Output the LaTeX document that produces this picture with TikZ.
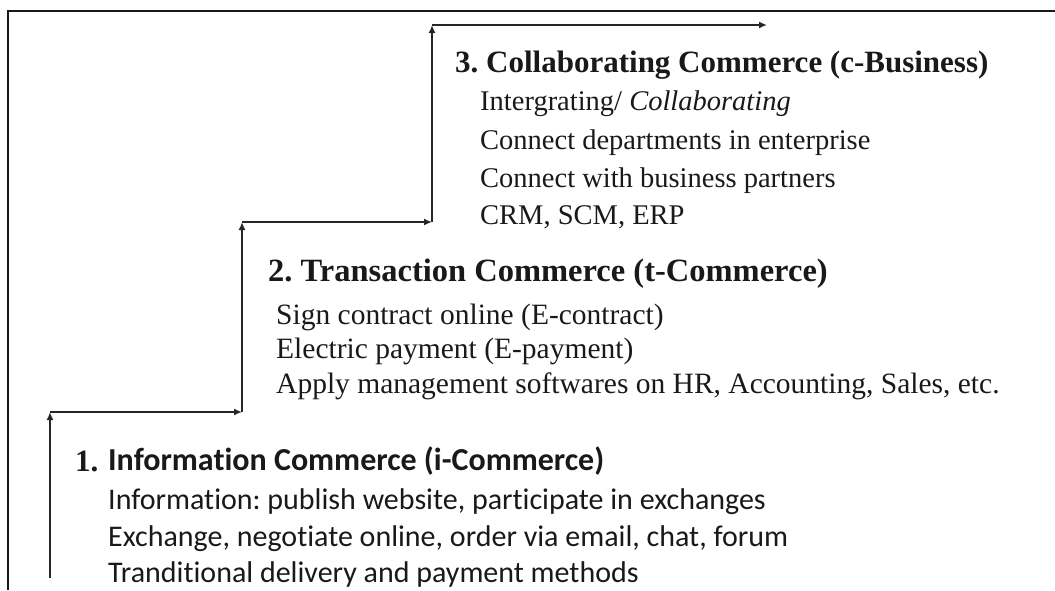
\documentclass[tikz,border=0pt]{standalone}
\usepackage{fontspec}
\setmainfont{Liberation Serif}
\newfontfamily\calibrifont[Ligatures=NoCommon]{Carlito}
\usetikzlibrary{arrows.meta}
\frenchspacing

\tikzset{
  stair/.style={draw=black!85, line width=1.8pt, -{Latex[length=8pt,width=7pt]}},
  frameline/.style={draw=black!90, line width=2pt},
  headtext/.style={anchor=base west, inner sep=0pt, text=black!90, font=\fontsize{31}{36}\selectfont\bfseries},
  bodytext/.style={anchor=base west, inner sep=0pt, text=black!90, font=\fontsize{28.5}{34}\selectfont},
  sanshead/.style={anchor=base west, inner sep=0pt, text=black!90, font=\calibrifont\fontsize{32}{36}\selectfont\bfseries},
  sansbody/.style={anchor=base west, inner sep=0pt, text=black!90, font=\calibrifont\fontsize{30}{34}\selectfont},
}

\begin{document}
\begin{tikzpicture}[x=1pt,y=-1pt]
	\useasboundingbox (0,0) rectangle (1055,590);
	% frame
	\coordinate (F0) at (8,590);
	\coordinate (F1) at (8,11);
	\coordinate (F2) at (1055,11);
	\draw[frameline] (F0) -- (F1) -- (F2);

	% stair corners
	\coordinate (S0) at (50,578);
	\coordinate (S1) at (50,412);
	\coordinate (S2) at (242,412);
	\coordinate (S3) at (242,222);
	\coordinate (S4) at (432,222);
	\coordinate (S5) at (432,25);
	\coordinate (S6) at (767,25);
	\draw[stair] (S0) -- (S1);
	\draw[stair] (S1) -- (S2);
	\draw[stair] (S2) -- (S3);
	\draw[stair] (S3) -- (S4);
	\draw[stair] (S4) -- (S5);
	\draw[stair] (S5) -- (S6);

	% level 3
	\node (C0) at (455,72)	[headtext]	{3. Collaborating Commerce (c-Business)};
	\node (C1) at (480,110)	[bodytext]	{Intergrating/ \textit{Collaborating}};
	\node (C2) at (480,149)	[bodytext]	{Connect departments in enterprise};
	\node (C3) at (480,187)	[bodytext]	{Connect with business partners};
	\node (C4) at (480,224)	[bodytext]	{CRM, SCM, ERP};

	% level 2
	\node (T0) at (268,281)	[headtext, font=\fontsize{32.5}{36}\selectfont\bfseries]	{2. Transaction Commerce (t-Commerce)};
	\node (T1) at (276,324)	[bodytext, font=\fontsize{29.5}{34}\selectfont]	{Sign contract online (E-contract)};
	\node (T2) at (276,358)	[bodytext, font=\fontsize{29.5}{34}\selectfont]	{Electric payment (E-payment)};
	\node (T3) at (276,393)	[bodytext, font=\fontsize{29.5}{34}\selectfont]	{Apply management softwares on HR, Accounting, Sales, etc.};

	% level 1
	\node (I0) at (75,471)	[headtext]	{1.};
	\node (I1) at (108,470)	[sanshead]	{Information Commerce (i-Commerce)};
	\node (I2) at (108,509)	[sansbody]	{Information: publish website, participate in exchanges};
	\node (I3) at (108,546)	[sansbody]	{Exchange, negotiate online, order via email, chat, forum};
	\node (I4) at (108,582)	[sansbody]	{Tranditional delivery and payment methods};
\end{tikzpicture}
\end{document}
